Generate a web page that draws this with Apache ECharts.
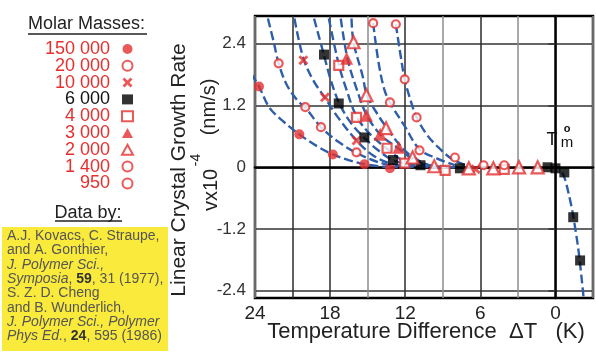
<!DOCTYPE html>
<html>
<head>
<meta charset="utf-8">
<script src="https://cdn.jsdelivr.net/npm/echarts@6/dist/echarts.min.js"></script>
<style>
  html, body { margin: 0; padding: 0; background: #fff; }
  #chart { width: 596px; height: 358px; }
</style>
</head>
<body>
<div id="chart"></div>
<script>
// Axis ticks
const xTicks = [24, 21, 18, 15, 12, 9, 6, 3, 0, -3];
const xLabels = [24, 18, 12, 6, 0];
const xDarkLines = [21, 18, 12, 6];
const yTicks = [-2.4, -1.2, 0, 1.2, 2.4];

// Molar masses (g/mol), in legend order
const masses = ['150 000', '20 000', '10 000', '6 000', '4 000', '3 000', '2 000', '1 400', '950'];

// Measured growth rates: [ΔT (K), v ×10^-4 (nm/s)]
const rate150000 = [[23.68, 1.57], [20.46, 0.64], [17.78, 0.25], [15.26, 0.06], [13.22, -0.02]];
const rate20000 = [[22.11, 2.02], [19.98, 1.17], [18.73, 0.78], [15.89, 0.29]];
const rate10000 = [[20.14, 2.08], [18.41, 1.36], [15.89, 0.52], [6.37, -0.04]];
const rate6000 = [[18.49, 2.19], [17.31, 1.24], [15.26, 0.58], [12.98, 0.14], [10.78, 0.04], [7.63, -0.02],
                  [0.63, 0.0], [0.0, -0.02], [-0.71, -0.1], [-1.42, -0.97], [-1.97, -1.81]];
const rate4000 = [[17.31, 1.98], [15.89, 0.97], [13.45, 0.37], [12.04, 0.08], [8.81, -0.06], [4.09, -0.04]];
const rate3000 = [[16.68, 2.12], [15.1, 1.01], [14.0, 0.64], [12.51, 0.39]];
const rate2000 = [[16.13, 2.43], [15.1, 1.4], [13.53, 0.76], [11.41, 0.19], [9.68, 0.02], [6.92, -0.02],
                  [4.96, -0.02], [2.91, 0.0], [1.42, 0.0]];
const rate1400 = [[14.56, 2.8], [13.22, 1.26], [10.86, 0.33], [4.09, 0.04]];
const rate950 = [[12.75, 2.78], [12.04, 1.71], [11.09, 0.97], [8.03, 0.19], [5.74, 0.04]];

// Fitted crystallization curves
const fit150000 = [[24.3, 1.82], [23.68, 1.57], [22.82, 1.15], [21.64, 0.87], [20.46, 0.64], [19.04, 0.41],
                   [17.78, 0.25], [16.52, 0.14], [15.26, 0.06], [13.22, 0.0]];
const fit20000 = [[22.97, 2.89], [22.5, 2.43], [22.11, 2.02], [21.48, 1.61], [20.61, 1.30], [19.98, 1.16],
                  [18.73, 0.78], [17.31, 0.49], [15.89, 0.28], [14.16, 0.10], [12.59, 0.0]];
const fit10000 = [[20.85, 2.89], [20.14, 2.12], [19.35, 1.69], [18.41, 1.35], [17.31, 0.95], [15.89, 0.52],
                  [14.56, 0.23], [12.98, 0.06], [11.01, 0.0]];
const fit6000 = [[19.28, 2.89], [18.49, 2.18], [17.94, 1.69], [17.26, 1.24], [16.36, 0.87], [15.26, 0.57],
                 [14.16, 0.33], [12.98, 0.14], [11.01, 0.03], [9.0, 0.0]];
const fit4000 = [[18.10, 2.89], [17.31, 2.0], [16.68, 1.50], [15.89, 0.99], [14.79, 0.64], [13.45, 0.36],
                 [12.04, 0.11], [10.23, 0.0]];
const fit3000 = [[17.15, 2.89], [16.6, 2.1], [15.89, 1.53], [15.11, 1.03], [14.0, 0.64], [12.51, 0.36],
                 [11.01, 0.10], [9.44, 0.0]];
const fit2000 = [[16.29, 2.89], [16.13, 2.43], [15.42, 1.79], [15.05, 1.40], [14.16, 1.01], [13.45, 0.76],
                 [12.43, 0.43], [11.41, 0.2], [9.68, 0.02], [8.0, 0.0]];
const fit1400 = [[14.56, 2.8], [14.16, 2.08], [13.69, 1.53], [13.22, 1.26], [12.04, 0.80], [10.86, 0.35],
                 [9.44, 0.17], [8.03, 0.04]];
const fit950 = [[12.75, 2.78], [12.43, 2.27], [12.04, 1.71], [11.57, 1.30], [11.09, 0.97], [10.23, 0.62],
                [9.28, 0.37], [8.26, 0.16], [7.08, 0.03]];
const fitMelt = [[-0.55, -0.1], [-0.79, -0.25], [-1.26, -0.74], [-1.57, -1.17], [-1.89, -1.71], [-2.25, -2.54]];

const FONT = '"Liberation Sans", Arial, sans-serif';
const RED = '#e5302f';
const BLUE = '#2f5ea8';
const X_PATH = 'path://M2,0 L5,3 L8,0 L10,2 L7,5 L10,8 L8,10 L5,7 L2,10 L0,8 L3,5 L0,2 Z';

function fitSeries(data) {
  return {
    type: 'line', data: data, smooth: 0.35, symbol: 'none', silent: true, z: 2,
    lineStyle: { color: BLUE, width: 2.4, type: [9, 4] }
  };
}

function markSeries(name, data, symbol, size, filled, color) {
  const c = color || RED;
  return {
    type: 'scatter', name: name, data: data, symbol: symbol, symbolSize: size, z: 5,
    itemStyle: filled ? { color: c } : { color: '#fff', borderColor: c, borderWidth: 2.2 }
  };
}

const chart = echarts.init(document.getElementById('chart'), null, { renderer: 'canvas' });

const refText = [
  'A.J. Kovacs, C. Straupe,',
  'and A. Gonthier,',
  '{i|J. Polymer Sci.,}',
  '{i|Symposia}, {b|59}, 31 (1977),',
  'S. Z. D. Cheng',
  'and B. Wunderlich,',
  '{i|J. Polymer Sci., Polymer}',
  '{i|Phys Ed.}, {b|24}, 595 (1986)'
].join('\n');

chart.setOption({
  animation: false,
  backgroundColor: '#fff',
  grid: {
    left: 255, top: 16, right: -2, bottom: 60,
    show: true, borderColor: '#000', borderWidth: 2.5, backgroundColor: 'transparent'
  },
  xAxis: {
    type: 'value', inverse: true, min: -3, max: 24, interval: 3,
    axisLine: { lineStyle: { color: '#000', width: 2.5 } },
    axisTick: { show: false },
    axisLabel: {
      formatter: v => (xLabels.indexOf(v) >= 0 ? String(v) : ''),
      fontFamily: FONT, fontSize: 19, color: '#222', margin: 6
    },
    splitLine: {
      show: true,
      lineStyle: {
        width: 1.5,
        color: xTicks.slice().sort((a, b) => a - b)
          .map(v => (xDarkLines.indexOf(v) >= 0 ? '#2b2b2b' : '#8c8c8c'))
      }
    }
  },
  yAxis: {
    type: 'value', min: -2.54, max: 2.94,
    axisLine: { lineStyle: { color: '#000', width: 2.5 } },
    axisTick: { show: true, length: 7, customValues: yTicks, lineStyle: { color: '#333', width: 1.6 } },
    axisLabel: {
      customValues: yTicks,
      formatter: v => (Math.abs(v) < 1e-9 ? '0' : v.toFixed(1)),
      fontFamily: FONT, fontSize: 17, color: '#333', margin: 9
    },
    splitLine: { show: true, lineStyle: { color: '#333', width: 1.7 } }
  },
  legend: {
    orient: 'vertical', align: 'right', right: 462, top: 40, padding: 0,
    itemGap: -1.2, itemWidth: 11, itemHeight: 10, selectedMode: false,
    textStyle: { fontFamily: FONT, fontSize: 18, color: RED, lineHeight: 16.7, padding: [0, 7, 0, 0] },
    data: masses.map(m => (m === '6 000'
      ? { name: m, textStyle: { color: '#111' } }
      : { name: m }))
  },
  series: [
    fitSeries(fit150000), fitSeries(fit20000), fitSeries(fit10000), fitSeries(fit6000),
    fitSeries(fit4000), fitSeries(fit3000), fitSeries(fit2000), fitSeries(fit1400),
    fitSeries(fit950), fitSeries(fitMelt),
    markSeries(masses[0], rate150000, 'circle', 10, true),
    markSeries(masses[1], rate20000, 'circle', 8, false),
    markSeries(masses[2], rate10000, X_PATH, 10, true),
    markSeries(masses[3], rate6000, 'rect', 10, true, '#000'),
    markSeries(masses[4], rate4000, 'rect', 9, false),
    markSeries(masses[5], rate3000, 'triangle', 13, true),
    markSeries(masses[6], rate2000, 'triangle', 12, false),
    markSeries(masses[7], rate1400, 'circle', 8, false),
    markSeries(masses[8], rate950, 'circle', 8, false)
  ],
  graphic: [
    // legend heading
    { type: 'text', left: 28, top: 15, style: { text: 'Molar Masses:', font: '18px ' + FONT, fill: '#222' } },
    { type: 'line', shape: { x1: 28, y1: 34, x2: 147, y2: 34 }, style: { stroke: '#222', lineWidth: 1.6 } },
    // sources
    { type: 'text', x: 88, y: 213, style: { text: 'Data by:', font: '18px ' + FONT, fill: '#222', align: 'center', verticalAlign: 'middle' } },
    { type: 'line', shape: { x1: 55, y1: 221, x2: 122, y2: 221 }, style: { stroke: '#222', lineWidth: 1.4 } },
    { type: 'rect', shape: { x: 2, y: 227, width: 166, height: 124 }, style: { fill: '#f9ea3c' } },
    {
      type: 'text', x: 7, y: 229,
      style: {
        text: refText, font: '14px ' + FONT, fill: '#555', lineHeight: 14.3,
        rich: {
          i: { fontStyle: 'italic', fontSize: 14, fontFamily: FONT, fill: '#555', lineHeight: 14.3 },
          b: { fontWeight: 'bold', fontSize: 14, fontFamily: FONT, fill: '#333', lineHeight: 14.3 }
        }
      }
    },
    // axis titles
    { type: 'text', x: 179, y: 170, rotation: Math.PI / 2,
      style: { text: 'Linear Crystal Growth Rate', font: '21px ' + FONT, fill: '#222', align: 'center', verticalAlign: 'middle' } },
    { type: 'text', x: 211, y: 190, rotation: Math.PI / 2,
      style: { text: 'vx10', font: '20px ' + FONT, fill: '#222', align: 'center', verticalAlign: 'middle' } },
    { type: 'text', x: 196, y: 160, rotation: Math.PI / 2,
      style: { text: '-4', font: '14px ' + FONT, fill: '#222', align: 'center', verticalAlign: 'middle' } },
    { type: 'text', x: 209, y: 107, rotation: Math.PI / 2,
      style: { text: '(nm/s)', font: '20px ' + FONT, fill: '#222', align: 'center', verticalAlign: 'middle' } },
    { type: 'text', x: 426, y: 332,
      style: { text: 'Temperature Difference  \u0394T   (K)', font: '22px ' + FONT, fill: '#222', align: 'center', verticalAlign: 'middle' } },
    // equilibrium melting temperature marker
    { type: 'text', x: 552, y: 140, z: 10,
      style: { text: 'T', font: '18px ' + FONT, fill: '#111', align: 'center', verticalAlign: 'middle' } },
    { type: 'text', x: 567, y: 129, z: 10,
      style: { text: 'o', font: 'bold 11px ' + FONT, fill: '#111', align: 'center', verticalAlign: 'middle' } },
    { type: 'text', x: 567, y: 143, z: 10,
      style: { text: 'm', font: '15px ' + FONT, fill: '#111', align: 'center', verticalAlign: 'middle' } }
  ]
});
</script>
</body>
</html>
